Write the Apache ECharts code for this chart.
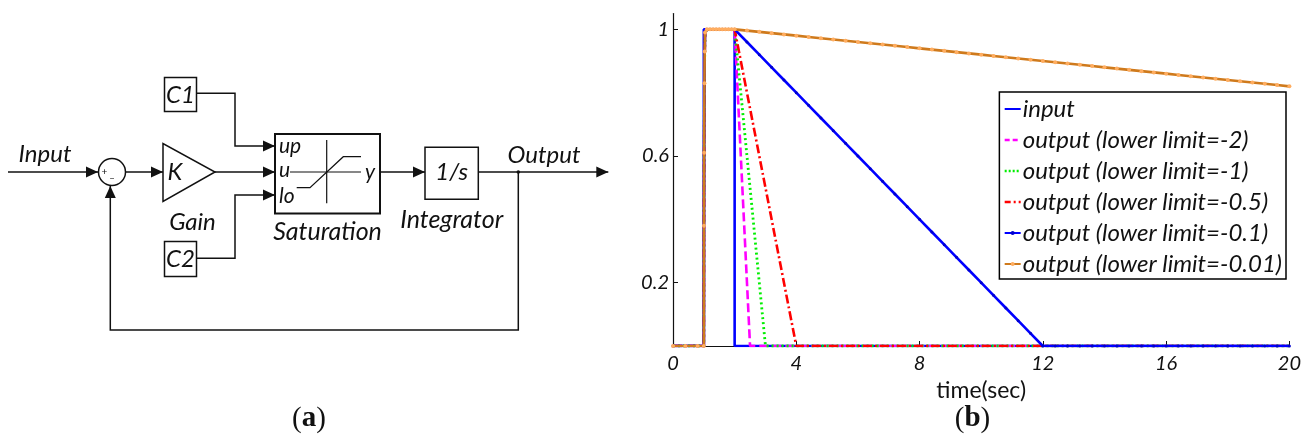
<!DOCTYPE html>
<html>
<head>
<meta charset="utf-8">
<script src="https://cdn.jsdelivr.net/npm/echarts@6/dist/echarts.min.js"></script>
<style>
html,body{margin:0;padding:0;background:#fff;}
#chart{width:1304px;height:436px;}
</style>
</head>
<body>
<div id="chart"></div>
<script>
// ---------- data ----------
const seriesNames = ['input','output (lower limit=-2)','output (lower limit=-1)','output (lower limit=-0.5)','output (lower limit=-0.1)','output (lower limit=-0.01)'];
const xTicks = [0, 4, 8, 12, 16, 20];
const yTicks = [0.2, 0.6, 1];

const inputTime  = [0, 1, 1, 2, 2, 20];
const inputValue = [0, 0, 1, 1, 0, 0];

// common rise of every output at t = 1
const riseTime  = [0, 0.4, 0.8, 1, 1.005, 1.01, 1.02, 1.03, 1.04, 1.1, 1.2, 1.3, 1.4, 1.5, 1.6, 1.7, 1.8, 1.9];
const riseValue = [0, 0, 0, 0, 0.38, 0.61, 0.83, 0.93, 0.99, 1, 1, 1, 1, 1, 1, 1, 1, 1];

const fall2Time  = [2, 2.5, 20];
const fall2Value = [1, 0, 0];
const fall1Time  = [2, 3, 20];
const fall1Value = [1, 0, 0];
const fall05Time  = [2, 4, 20];
const fall05Value = [1, 0, 0];

const fall01Time  = [2, 2.4, 2.8, 3.2, 3.6, 4, 4.4, 4.8, 5.2, 5.6, 6, 6.4, 6.8, 7.2, 7.6, 8, 8.4, 8.8, 9.2, 9.6, 10, 10.4, 10.8, 11.2, 11.6, 12,
                     12.4, 12.8, 13.2, 13.6, 14, 14.4, 14.8, 15.2, 15.6, 16, 16.4, 16.8, 17.2, 17.6, 18, 18.4, 18.8, 19.2, 19.6, 20];
const fall01Value = [1, 0.96, 0.92, 0.88, 0.84, 0.80, 0.76, 0.72, 0.68, 0.64, 0.60, 0.56, 0.52, 0.48, 0.44, 0.40, 0.36, 0.32, 0.28, 0.24, 0.20, 0.16, 0.12, 0.08, 0.04, 0,
                     0, 0, 0, 0, 0, 0, 0, 0, 0, 0, 0, 0, 0, 0, 0, 0, 0, 0, 0, 0];

const fall001Time  = [2, 2.4, 2.8, 3.2, 3.6, 4, 4.4, 4.8, 5.2, 5.6, 6, 6.4, 6.8, 7.2, 7.6, 8, 8.4, 8.8, 9.2, 9.6, 10, 10.4, 10.8, 11.2, 11.6, 12,
                      12.4, 12.8, 13.2, 13.6, 14, 14.4, 14.8, 15.2, 15.6, 16, 16.4, 16.8, 17.2, 17.6, 18, 18.4, 18.8, 19.2, 19.6, 20];
const fall001Value = [1, 0.996, 0.992, 0.988, 0.984, 0.980, 0.976, 0.972, 0.968, 0.964, 0.960, 0.956, 0.952, 0.948, 0.944, 0.940, 0.936, 0.932, 0.928, 0.924, 0.920, 0.916, 0.912, 0.908, 0.904, 0.900,
                      0.896, 0.892, 0.888, 0.884, 0.880, 0.876, 0.872, 0.868, 0.864, 0.860, 0.856, 0.852, 0.848, 0.844, 0.840, 0.836, 0.832, 0.828, 0.824, 0.820];

// ---------- helpers ----------
function pairs(t, v) { return t.map((x, i) => [x, v[i]]); }
function out(t, v) { return pairs(riseTime.concat(t), riseValue.concat(v)); }

const FONT = 'Lato';
const BLK = '#111';
const LW = 1.5;

function line(points, w) {
  return { type: 'polyline', shape: { points: points }, style: { stroke: BLK, lineWidth: w || LW, fill: null }, silent: true };
}
function arrowR(x, y) { // tip at x,y pointing right
  return { type: 'polygon', shape: { points: [[x - 12, y - 5.5], [x, y], [x - 12, y + 5.5]] }, style: { fill: BLK }, silent: true };
}
function arrowU(x, y) { // tip at x,y pointing up
  return { type: 'polygon', shape: { points: [[x - 5.5, y + 12], [x, y], [x + 5.5, y + 12]] }, style: { fill: BLK }, silent: true };
}
function txt(s, x, y, size, opt) {
  opt = opt || {};
  return { type: 'text', silent: true, style: Object.assign({ text: s, x: x, y: y, fontSize: size, fontFamily: FONT, fontStyle: 'italic',
    align: 'center', verticalAlign: 'middle', fill: BLK }, opt) };
}
function box(x, y, w, h, lw) {
  return { type: 'rect', shape: { x: x, y: y, width: w, height: h }, style: { stroke: BLK, lineWidth: lw || LW, fill: '#fff' }, silent: true };
}
function panelLabel(letter, x, y) {
  return { type: 'text', silent: true, style: {
    rich: { p: { fontFamily: 'Liberation Serif', fontSize: 29, fill: BLK }, b: { fontFamily: 'Liberation Serif', fontSize: 29, fontWeight: 'bold', fill: BLK } },
    text: '{p|(}{b|' + letter + '}{p|)}', x: x, y: y, align: 'center', verticalAlign: 'middle' } };
}

const Y0 = 172;
const diagram = [
  // input
  line([[8, Y0], [98, Y0]]), arrowR(98, Y0), txt('Input', 45, 154, 24),
  // summing junction
  { type: 'circle', shape: { cx: 112, cy: Y0, r: 13.5 }, style: { stroke: BLK, lineWidth: LW, fill: '#fff' }, silent: true },
  txt('+', 104.5, 172, 10, { fontStyle: 'normal' }), txt('_', 112, 174, 10, { fontStyle: 'normal' }),
  line([[125.5, Y0], [163, Y0]]), arrowR(163, Y0),
  // gain
  { type: 'polygon', shape: { points: [[163, 143.5], [163, 201.5], [215, Y0]] }, style: { stroke: BLK, lineWidth: LW, fill: '#fff' }, silent: true },
  txt('K', 175, 172, 24), txt('Gain', 192.5, 222, 24),
  line([[215, Y0], [275, Y0]]), arrowR(275, Y0),
  // C1, C2
  box(164.5, 77.5, 32, 34), txt('C1', 180.5, 95, 24),
  line([[196.5, 93.3], [235, 93.3], [235, 146], [275, 146]]), arrowR(275, 146),
  box(164.5, 241.5, 32, 35), txt('C2', 180.5, 259.5, 24),
  line([[196.5, 258.3], [235, 258.3], [235, 195], [275, 195]]), arrowR(275, 195),
  // saturation
  box(275, 134, 105, 79.5, 2),
  line([[290, Y0], [361, Y0]], 1.2),
  line([[326.7, 140], [326.7, 203.3]], 1.2),
  line([[296.7, 187.7], [310, 187.7], [343.3, 156.7], [361, 156.7]], 1.2),
  txt('up', 279, 146, 21, { align: 'left' }), txt('u', 279, 170, 21, { align: 'left' }), txt('lo', 279, 196, 21, { align: 'left' }),
  txt('y', 370, 172, 21),
  txt('Saturation', 327.5, 232, 25),
  line([[380, Y0], [425, Y0]]), arrowR(425, Y0),
  // integrator
  box(425, 147.3, 53.3, 52), txt('1/s', 451.7, 172, 24), txt('Integrator', 451.7, 220, 25),
  // output
  line([[478.3, Y0], [608.3, Y0]]), arrowR(608.3, Y0), txt('Output', 544, 155, 24),
  { type: 'circle', shape: { cx: 518.3, cy: Y0, r: 1.8 }, style: { fill: BLK }, silent: true },
  // feedback
  line([[518.3, Y0], [518.3, 330], [110.3, 330], [110.3, 186]]), arrowU(110.3, 186),
  // panel labels
  panelLabel('a', 309, 419),
  panelLabel('b', 972.5, 419)
];

const chart = echarts.init(document.getElementById('chart'), null, { renderer: 'canvas' });
const noMark = { opacity: 0 };
const option = {
  animation: false,
  backgroundColor: '#fff',
  graphic: diagram,
  grid: { left: 673, right: 13, top: 13.5, bottom: 90, containLabel: false },
  legend: {
    orient: 'vertical', right: 18, top: 92,
    data: [
      { name: seriesNames[0], itemStyle: noMark },
      { name: seriesNames[1], itemStyle: noMark, lineStyle: { type: [5, 3], width: 2.4 } },
      { name: seriesNames[2], itemStyle: noMark, lineStyle: { type: [2, 2], width: 2.6 } },
      { name: seriesNames[3], itemStyle: noMark, lineStyle: { type: [6, 3, 2, 3], width: 2.4 } },
      { name: seriesNames[4] },
      { name: seriesNames[5] }
    ],
    borderColor: '#000', borderWidth: 1.5, backgroundColor: '#fff',
    padding: [4, 4, 2, 4], itemGap: 5, itemWidth: 16, itemHeight: 5,
    textStyle: { fontFamily: FONT, fontStyle: 'italic', fontSize: 24, color: BLK, lineHeight: 26, padding: [0, 0, 0, -3] }
  },
  xAxis: {
    type: 'value', min: 0, max: 20, interval: 4,
    name: 'time(sec)', nameLocation: 'middle', nameGap: 25,
    nameTextStyle: { fontFamily: FONT, fontSize: 23, color: BLK },
    axisLine: { show: true, lineStyle: { color: BLK, width: 1.2 } },
    axisTick: { show: true, inside: true, length: 5, lineStyle: { color: BLK } },
    axisLabel: { fontFamily: FONT, fontStyle: 'italic', fontSize: 20, color: BLK, margin: 8,
      customValues: xTicks },
    splitLine: { show: false }
  },
  yAxis: {
    type: 'value', min: 0, max: 1.05,
    axisLine: { show: true, lineStyle: { color: BLK, width: 1.2 } },
    axisTick: { show: true, inside: true, length: 5, lineStyle: { color: BLK }, customValues: yTicks },
    axisLabel: { fontFamily: FONT, fontStyle: 'italic', fontSize: 20, color: BLK, margin: 4, customValues: yTicks },
    splitLine: { show: false }
  },
  series: [
    { name: seriesNames[0], type: 'line', data: pairs(inputTime, inputValue), symbol: 'none', color: '#0000ff',
      lineStyle: { color: '#0000ff', width: 2.6 }, z: 2 },
    { name: seriesNames[1], type: 'line', data: out(fall2Time, fall2Value), symbol: 'none', color: '#ff00ff',
      lineStyle: { color: '#ff00ff', width: 2.6, type: [9, 4] }, z: 3 },
    { name: seriesNames[2], type: 'line', data: out(fall1Time, fall1Value), symbol: 'none', color: '#00ee00',
      lineStyle: { color: '#00ee00', width: 2.8, type: [2, 3] }, z: 4 },
    { name: seriesNames[3], type: 'line', data: out(fall05Time, fall05Value), symbol: 'none', color: '#ff0000',
      lineStyle: { color: '#ff0000', width: 2.6, type: [9, 3, 2, 3] }, z: 5 },
    { name: seriesNames[4], type: 'line', data: out(fall01Time, fall01Value), symbol: 'circle', symbolSize: 3, showSymbol: true,
      color: '#0000cc', itemStyle: { color: '#0000cc' }, lineStyle: { color: '#0000ff', width: 2.6 }, z: 6 },
    { name: seriesNames[5], type: 'line', data: out(fall001Time, fall001Value), symbol: 'circle', symbolSize: 4, showSymbol: true,
      color: '#ffad60', itemStyle: { color: '#ffad60' }, lineStyle: { color: '#cf7a1c', width: 2.6 }, z: 7 }
  ]
};
chart.setOption(option);
</script>
</body>
</html>
